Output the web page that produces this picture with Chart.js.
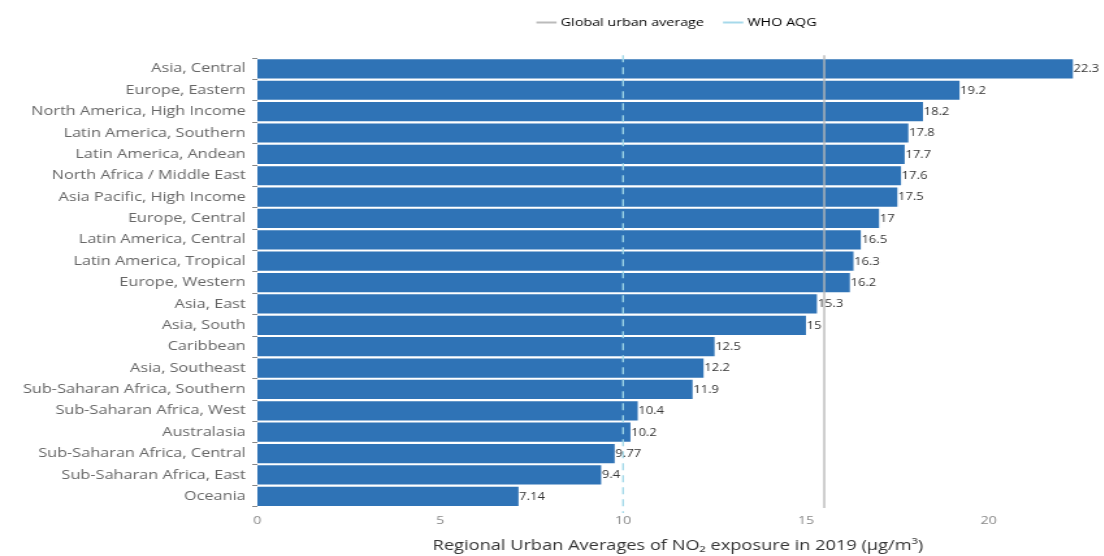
<!DOCTYPE html>
<html>
<head>
<meta charset="utf-8">
<script src="https://cdn.jsdelivr.net/npm/chart.js@4/dist/chart.umd.min.js"></script>
<style>
  html, body { margin: 0; padding: 0; background: #fff; overflow: hidden; }
  /* the source image is stretched sideways, so draw narrower and widen it */
  #wrap { width: 849px; height: 556px; transform: scaleX(1.3); transform-origin: 0 0; }
</style>
</head>
<body>
<div id="wrap"><canvas id="no2Chart"></canvas></div>
<script>
var regions = [
    'Asia, Central', 'Europe, Eastern', 'North America, High Income', 'Latin America, Southern',
    'Latin America, Andean', 'North Africa / Middle East', 'Asia Pacific, High Income',
    'Europe, Central', 'Latin America, Central', 'Latin America, Tropical', 'Europe, Western',
    'Asia, East', 'Asia, South', 'Caribbean', 'Asia, Southeast', 'Sub-Saharan Africa, Southern',
    'Sub-Saharan Africa, West', 'Australasia', 'Sub-Saharan Africa, Central',
    'Sub-Saharan Africa, East', 'Oceania'
];
var no2Values = [22.3, 19.2, 18.2, 17.8, 17.7, 17.6, 17.5, 17, 16.5, 16.3, 16.2,
    15.3, 15, 12.5, 12.2, 11.9, 10.4, 10.2, 9.77, 9.4, 7.14];
var xTicks = [0, 5, 10, 15, 20];
var globalUrbanAverage = 15.5;
var whoAqg = 10;

var avgColor = 'rgba(185, 185, 185, 0.85)';
var whoColor = 'rgba(160, 215, 232, 0.95)';

/* reference lines + value labels */
var overlayPlugin = {
    id: 'overlay',
    afterLayout: function(chart) {
        // legend sits centred over the plot, not over the whole canvas
        if (chart.legend) {
            chart.legend.left = chart.chartArea.left;
            chart.legend.right = chart.chartArea.right;
        }
    },
    afterDatasetsDraw: function(chart) {
        var ctx = chart.ctx;
        var area = chart.chartArea;
        var xs = chart.scales.x;

        ctx.save();
        var gx = xs.getPixelForValue(globalUrbanAverage);
        ctx.strokeStyle = avgColor;
        ctx.lineWidth = 1.6;
        ctx.beginPath();
        ctx.moveTo(gx, area.top - 3);
        ctx.lineTo(gx, area.bottom + 1);
        ctx.stroke();

        var wx = xs.getPixelForValue(whoAqg);
        ctx.strokeStyle = whoColor;
        ctx.lineWidth = 1.4;
        ctx.setLineDash([7, 5]);
        ctx.beginPath();
        ctx.moveTo(wx, area.top - 3);
        ctx.lineTo(wx, area.bottom + 6);
        ctx.stroke();
        ctx.setLineDash([]);

        var meta = chart.getDatasetMeta(0);
        ctx.fillStyle = '#333';
        ctx.font = '10px "Open Sans"';
        ctx.textAlign = 'left';
        ctx.textBaseline = 'middle';
        meta.data.forEach(function(bar, i) {
            ctx.fillText(String(no2Values[i]), bar.x + 0.5, bar.y + 0.5);
        });
        ctx.restore();
    }
};

var ctx = document.getElementById('no2Chart').getContext('2d');
new Chart(ctx, {
    type: 'bar',
    data: {
        labels: regions,
        datasets: [{
            label: 'NO2',
            data: no2Values,
            backgroundColor: '#2f73b6',
            barPercentage: 0.9,
            categoryPercentage: 1.0
        }]
    },
    options: {
        indexAxis: 'y',
        responsive: true,
        maintainAspectRatio: false,
        animation: false,
        layout: { padding: { top: 0, right: 4, bottom: 0, left: 0 } },
        plugins: {
            tooltip: { enabled: false },
            title: { display: false },
            subtitle: {
                // empty spacer between legend and bars
                display: true,
                text: ' ',
                font: { size: 1 },
                padding: { top: 0, bottom: 19 }
            },
            legend: {
                position: 'top',
                weight: 3000,
                labels: {
                    font: { family: '"Open Sans"', size: 11 },
                    color: '#555',
                    usePointStyle: true,
                    boxWidth: 16,
                    padding: 17,
                    generateLabels: function() {
                        return [
                            { text: 'Global urban average', pointStyle: 'line', strokeStyle: '#bbb', fillStyle: '#bbb', lineWidth: 2 },
                            { text: 'WHO AQG', pointStyle: 'line', strokeStyle: '#a6d9ea', fillStyle: '#a6d9ea', lineWidth: 2 }
                        ];
                    }
                }
            }
        },
        scales: {
            x: {
                min: 0,
                max: 23,
                grid: { display: false, drawTicks: false },
                border: { display: false },
                afterBuildTicks: function(scale) {
                    scale.ticks = xTicks.map(function(v) { return { value: v }; });
                },
                ticks: {
                    padding: 7,
                    color: '#888',
                    font: { family: '"Open Sans"', size: 11 }
                },
                title: {
                    display: true,
                    text: 'Regional Urban Averages of NO\u2082 exposure in 2019 (\u03bcg/m\u00b3)',
                    color: '#333',
                    font: { family: '"Open Sans"', size: 14 },
                    padding: { top: 3, bottom: 2 }
                }
            },
            y: {
                grid: { display: true, drawOnChartArea: false, drawTicks: true, tickLength: 4, color: '#888' },
                border: { display: false },
                afterFit: function(scale) { scale.width = 198; },
                ticks: {
                    padding: 5,
                    color: '#666',
                    font: { family: '"Open Sans"', size: 12.5 },
                    autoSkip: false
                }
            }
        }
    },
    plugins: [overlayPlugin]
});
</script>
</body>
</html>
